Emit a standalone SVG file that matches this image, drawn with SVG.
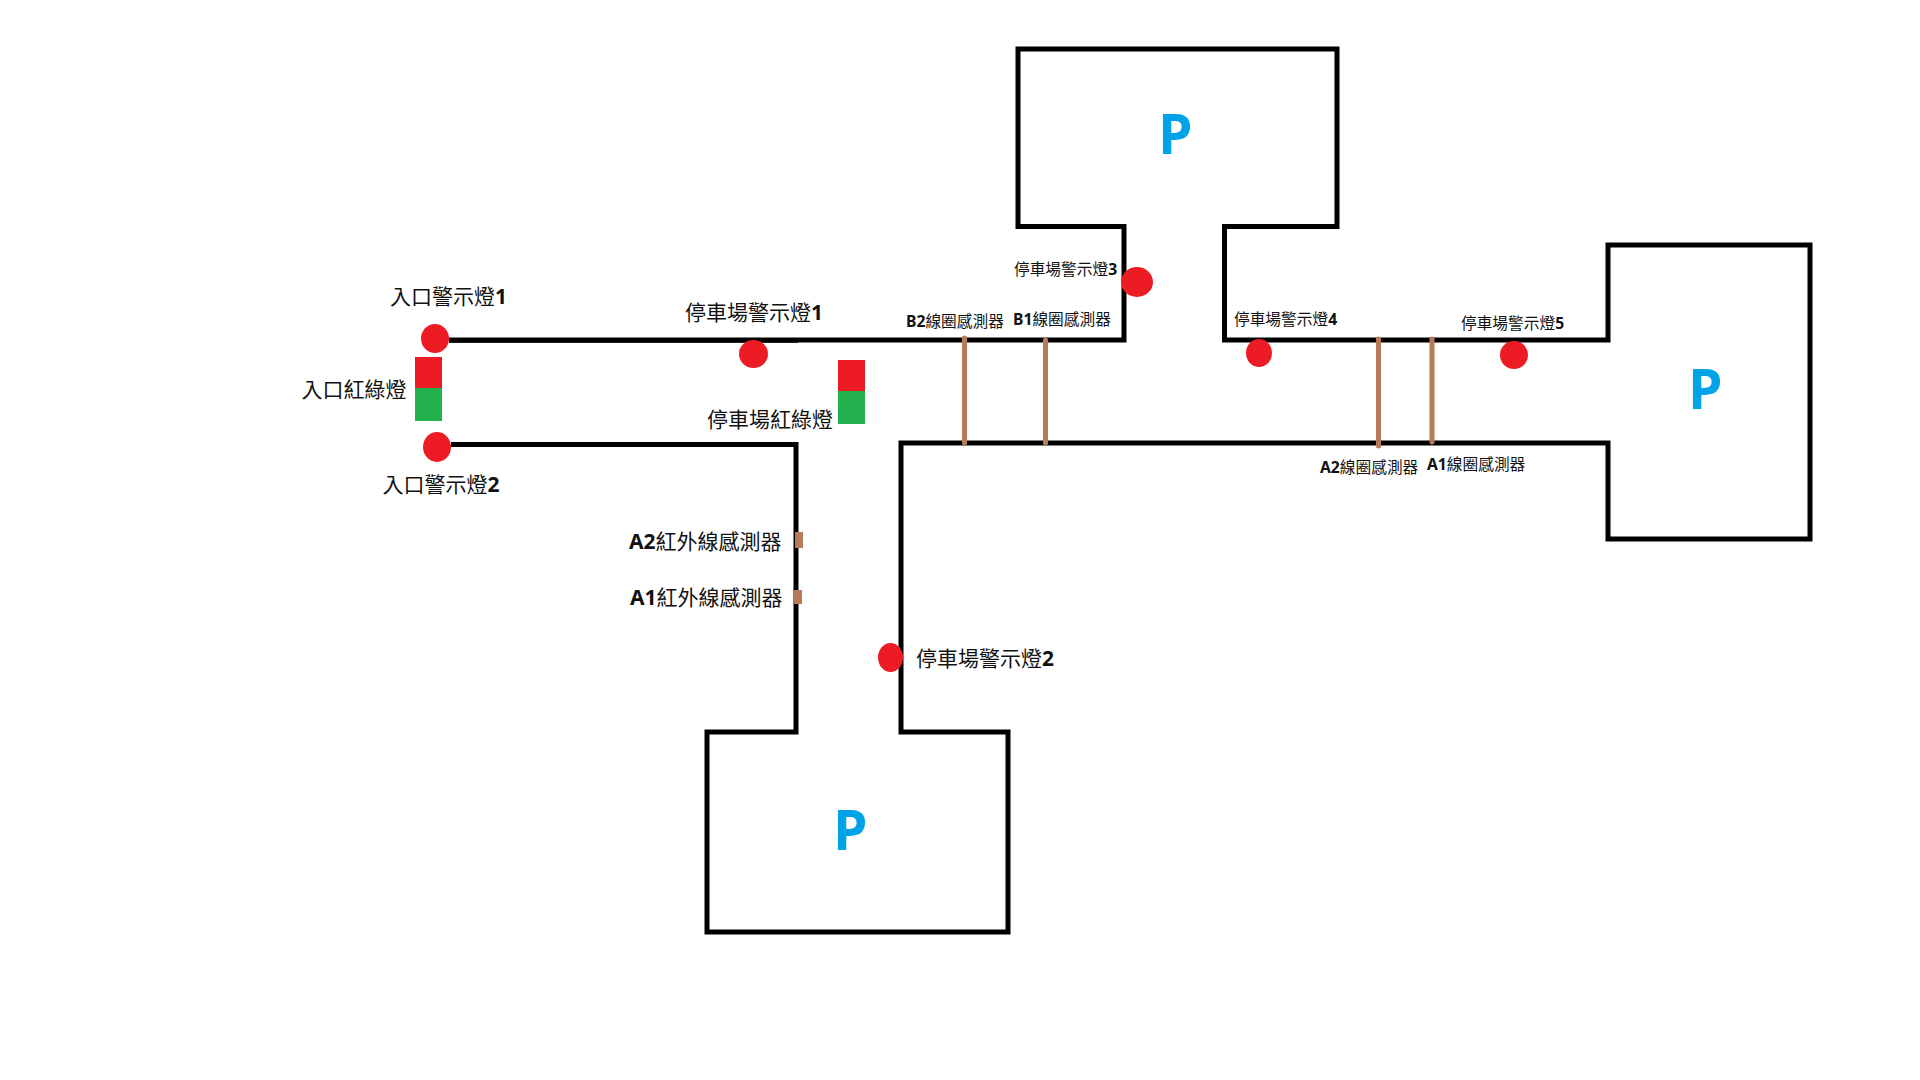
<svg xmlns="http://www.w3.org/2000/svg" width="1920" height="1080" viewBox="0 0 1920 1080">
<style>
text{font-family:"Noto Sans CJK TC","Noto Sans",sans-serif;fill:#111}
.l{font-size:21px}
.s{font-size:15.700px}
.n{font-family:"Noto Sans","Noto Sans CJK TC",sans-serif;font-weight:700}
.p{font-family:"Open Sans","Noto Sans",sans-serif;font-weight:700;font-size:55px;fill:#00a2e8}
.wall{fill:none;stroke:#000;stroke-width:5;stroke-linejoin:miter}
.lamp{fill:#ed1c24}
.red{fill:#ed1c24}
.green{fill:#22b14c}
.loop{stroke:#b97a57;stroke-width:5;stroke-linecap:round}
.ir{fill:#b97a57}
</style>
<rect width="1920" height="1080" fill="#fff"/>
<g id="walls">
<path class="wall" d="M449 340H1124V226.500H1018V49H1337V226.500H1224.500V340H1608V245H1810V539H1608V443H901V732H1008V932H707V732H796V444.500H451"/>
<path d="M449 341.500H798" stroke="#000" stroke-width="2.500" fill="none"/>
</g>
<g id="loops">
<line class="loop" x1="964.500" y1="338" x2="964.500" y2="443"/>
<line class="loop" x1="1045.500" y1="340" x2="1045.500" y2="443"/>
<line class="loop" x1="1378.500" y1="339" x2="1378.500" y2="446"/>
<line class="loop" x1="1432" y1="339" x2="1432" y2="442"/>
</g>
<g id="ir-a2"><rect class="ir" x="795" y="532" width="8" height="16"/></g>
<g id="ir-a1"><rect class="ir" x="794" y="590" width="8" height="14"/></g>
<g id="signal-entrance"><rect class="red" x="415" y="357" width="27" height="31"/><rect class="green" x="415" y="388" width="27" height="33"/></g>
<g id="signal-parking"><rect class="red" x="838" y="360" width="27" height="31"/><rect class="green" x="838" y="391" width="27" height="33"/></g>
<g id="lamps">
<ellipse id="lamp-in1" class="lamp" cx="435" cy="338.500" rx="14" ry="14.500"/>
<ellipse id="lamp-in2" class="lamp" cx="437" cy="447" rx="14" ry="15"/>
<ellipse id="lamp-p1" class="lamp" cx="753.500" cy="354" rx="14.500" ry="14"/>
<ellipse id="lamp-p2" class="lamp" cx="890.500" cy="657.500" rx="12.500" ry="14.500"/>
<ellipse id="lamp-p3" class="lamp" cx="1137" cy="282" rx="16" ry="15"/>
<ellipse id="lamp-p4" class="lamp" cx="1259" cy="353" rx="13" ry="14"/>
<ellipse id="lamp-p5" class="lamp" cx="1514" cy="355" rx="14" ry="14"/>
</g>
<g id="labels">
<text class="l" x="390" y="304">入口警示燈<tspan class="n">1</tspan></text>
<text class="l" x="382.500" y="492">入口警示燈<tspan class="n">2</tspan></text>
<text class="l" x="301.500" y="396.500">入口紅綠燈</text>
<text class="l" x="685" y="320">停車場警示燈<tspan class="n">1</tspan></text>
<text class="l" x="707" y="426.500">停車場紅綠燈</text>
<text class="l" x="916" y="666">停車場警示燈<tspan class="n">2</tspan></text>
<text class="l" x="629" y="548.500"><tspan class="n">A2</tspan>紅外線感測器</text>
<text class="l" x="630" y="604.500"><tspan class="n">A1</tspan>紅外線感測器</text>
<text class="s" x="1014" y="275">停車場警示燈<tspan class="n">3</tspan></text>
<text class="s" x="1234" y="325">停車場警示燈<tspan class="n">4</tspan></text>
<text class="s" x="1461" y="329">停車場警示燈<tspan class="n">5</tspan></text>
<text class="s" x="906" y="327"><tspan class="n">B2</tspan>線圈感測器</text>
<text class="s" x="1013" y="325"><tspan class="n">B1</tspan>線圈感測器</text>
<text class="s" x="1320" y="473"><tspan class="n">A2</tspan>線圈感測器</text>
<text class="s" x="1427" y="470"><tspan class="n">A1</tspan>線圈感測器</text>
</g>
<g id="parking">
<text class="p" x="1158" y="154">P</text>
<text class="p" x="1688" y="409">P</text>
<text class="p" x="833" y="850">P</text>
</g>
</svg>
